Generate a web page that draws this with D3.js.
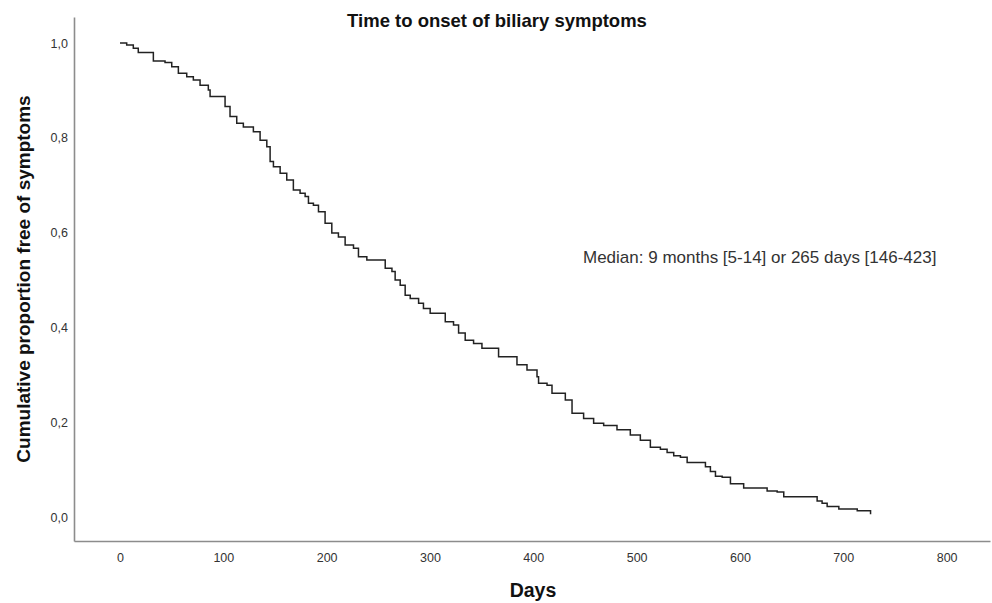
<!DOCTYPE html>
<html>
<head>
<meta charset="utf-8">
<script src="https://cdn.jsdelivr.net/npm/d3@7"></script>
<style>
  body { margin: 0; background: #fff; }
  svg { display: block; font-family: "Liberation Sans", Arial, sans-serif; }
</style>
</head>
<body>
<svg id="chart" width="992" height="603"></svg>
<script>
// Kaplan-Meier steps: day of event, proportion after it
var days = [0, 6.5, 12.9, 17.7, 32.3, 43.6, 50.1, 56.5, 64.6, 71, 77.5, 85.5, 87.2,
  101.7, 106.5, 113, 119.4, 129.1, 135.6, 142.1, 145.3, 148.5, 155, 161.4, 167.8,
  174.3, 179.2, 182.4, 187.2, 192.1, 198.5, 205, 211.4, 217.9, 226, 230.8, 238.9,
  256.7, 263.2, 266.3, 271.2, 276, 280.9, 289, 293.7, 300.2, 314.8, 322.8, 327.7,
  334.1, 342.2, 350.3, 366.4, 384.2, 393.9, 403.6, 405.1, 413.3, 418.1, 431, 437.5,
  448.7, 458.4, 468.1, 481, 493.9, 503.6, 513.3, 523, 529.5, 535.9, 542.4, 548.9,
  566.6, 571.4, 576.3, 582.8, 590.8, 603.6, 626.3, 636, 642.4, 674.7, 679.5, 684.4,
  695.7, 713.5, 726.4];
var survival = [1.0, 0.996, 0.989, 0.980, 0.962, 0.959, 0.950, 0.936, 0.929, 0.922, 0.911, 0.901, 0.887,
  0.866, 0.845, 0.831, 0.823, 0.813, 0.795, 0.781, 0.750, 0.739, 0.725, 0.711, 0.690,
  0.683, 0.676, 0.662, 0.658, 0.644, 0.620, 0.599, 0.591, 0.574, 0.567, 0.549, 0.542,
  0.525, 0.518, 0.500, 0.489, 0.468, 0.461, 0.451, 0.440, 0.430, 0.412, 0.405, 0.388,
  0.373, 0.366, 0.356, 0.338, 0.321, 0.310, 0.296, 0.282, 0.278, 0.261, 0.247, 0.219,
  0.208, 0.198, 0.193, 0.184, 0.173, 0.162, 0.147, 0.143, 0.136, 0.129, 0.126, 0.115,
  0.106, 0.096, 0.086, 0.084, 0.070, 0.061, 0.055, 0.053, 0.043, 0.034, 0.029, 0.022,
  0.017, 0.013, 0.006];

var xTicks = [0, 100, 200, 300, 400, 500, 600, 700, 800];
var yTicks = [0, 0.2, 0.4, 0.6, 0.8, 1.0];

var title = "Time to onset of biliary symptoms";
var xTitle = "Days";
var yTitle = "Cumulative proportion free of symptoms";
var note = "Median: 9 months [5-14] or 265 days [146-423]";

var svg = d3.select("#chart");

// axes sit at x=74 (left) and y=541 (bottom), as in the SPSS output
var x = d3.scaleLinear().domain([-44.5, 842]).range([74, 990]);
var y = d3.scaleLinear().domain([-0.0506, 1.0549]).range([541, 17]);

// comma as decimal mark
var fmt = d3.formatLocale({decimal: ",", thousands: ".", grouping: [3], currency: ["", ""]}).format(".1f");

var xAxis = svg.append("g")
  .attr("transform", "translate(0,541)")
  .call(d3.axisBottom(x).tickValues(xTicks).tickSize(0).tickPadding(12).tickFormat(d3.format("d")));

var yAxis = svg.append("g")
  .attr("transform", "translate(74,0)")
  .call(d3.axisLeft(y).tickValues(yTicks).tickSize(0).tickPadding(6).tickFormat(fmt));

[xAxis, yAxis].forEach(function(a) {
  a.select(".domain").attr("stroke", "#8c8c8c").attr("stroke-width", 1.6);
  a.selectAll("text").attr("fill", "#333").style("font-size", "12.5px");
});

// the curve
var data = days.map(function(d, i) { return [d, survival[i]]; });
var line = d3.line()
  .x(function(d) { return x(d[0]); })
  .y(function(d) { return y(d[1]); })
  .curve(d3.curveStepAfter);

svg.append("path")
  .datum(data)
  .attr("fill", "none")
  .attr("stroke", "#222")
  .attr("stroke-width", 1.5)
  .attr("d", line);

// texts
svg.append("text")
  .attr("x", 497).attr("y", 27)
  .attr("text-anchor", "middle")
  .attr("font-weight", "bold")
  .attr("fill", "#111")
  .style("font-size", "18.5px")
  .text(title);

svg.append("text")
  .attr("x", 533).attr("y", 597)
  .attr("text-anchor", "middle")
  .attr("font-weight", "bold")
  .attr("fill", "#111")
  .style("font-size", "19.5px")
  .text(xTitle);

svg.append("text")
  .attr("transform", "translate(30,279) rotate(-90)")
  .attr("text-anchor", "middle")
  .attr("font-weight", "bold")
  .attr("fill", "#111")
  .style("font-size", "19px")
  .text(yTitle);

svg.append("text")
  .attr("x", 583).attr("y", 263)
  .attr("fill", "#333")
  .style("font-size", "17px")
  .text(note);
</script>
</body>
</html>
